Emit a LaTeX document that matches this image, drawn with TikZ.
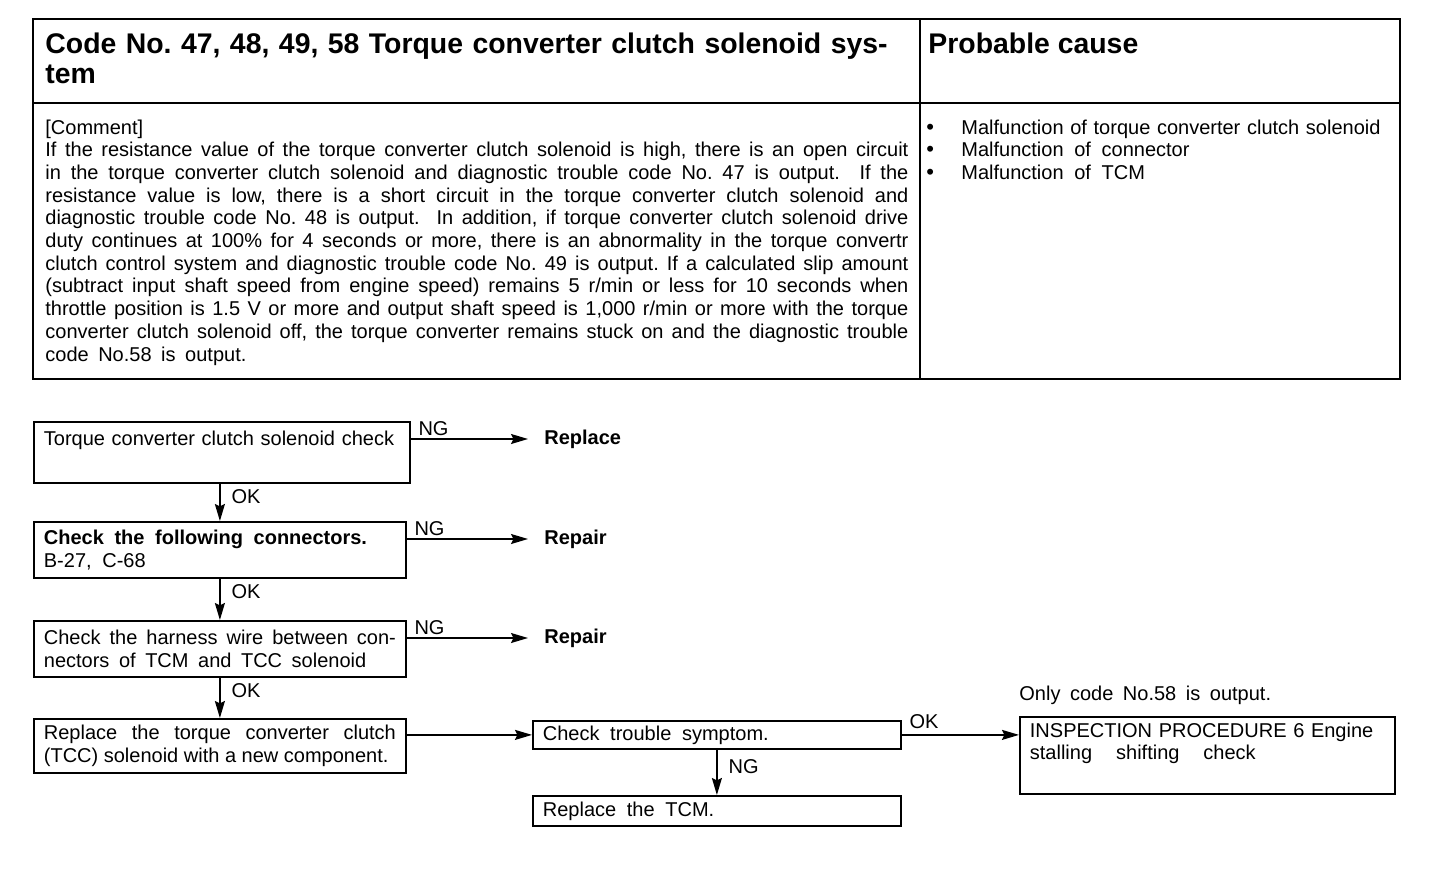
\documentclass[tikz,border=0pt]{standalone}
\usepackage{fontspec}
\setmainfont{Liberation Sans}
\usetikzlibrary{arrows.meta}
\frenchspacing

\begin{document}
\begin{tikzpicture}[x=0.5pt,y=-0.5pt,
		txt/.style={inner sep=0pt,font=\fontsize{10}{11.35}\selectfont},
		hd/.style={inner sep=0pt,font=\fontsize{14.2}{15}\selectfont\bfseries},
		chk/.style={draw,line width=0.9pt,anchor=north west,inner xsep=5pt,inner ysep=0pt,
			font=\fontsize{10}{11.3}\selectfont,align=left},
		act/.style={anchor=west,inner xsep=8pt,font=\fontsize{10}{12}\selectfont\bfseries},
		lab/.style={inner sep=1.5pt,font=\fontsize{10}{12}\selectfont},
		arr/.style={line width=0.75pt,-{Stealth[length=8.5pt,width=5pt,inset=1.2pt]}}]
		\useasboundingbox (0,0) rectangle (1456,878);
		% table
		\draw[line width=1pt] (33,19) rectangle (1400,379);
		\draw[line width=1pt] (920,19) -- (920,379);
		\draw[line width=1pt] (33,103) -- (1400,103);
		\node[hd,anchor=base west,text width=430pt,align=left] (title) at (45,53)
			{Code No. 47, 48, 49, 58 Torque converter clutch solenoid sys-\\tem};
		\node[hd,anchor=base west] (cause) at (928,53) {Probable cause};
		\node[txt,anchor=base west,text width=431.5pt,align=justify] (cmt) at (45,134) {[Comment]\\
			If the resistance value of the torque converter clutch solenoid is high, there is an open circuit\linebreak
			in the torque converter clutch solenoid and diagnostic trouble code No. 47 is output.\ \ If the\linebreak
			resistance value is low, there is a short circuit in the torque converter clutch solenoid and\linebreak
			diagnostic trouble code No. 48 is output.\ \ In addition, if torque converter clutch solenoid drive\linebreak
			duty continues at 100\% for 4 seconds or more, there is an abnormality in the torque convertr\linebreak
			clutch control system and diagnostic trouble code No. 49 is output. If a calculated slip amount\linebreak
			(subtract input shaft speed from engine speed) remains 5 r/min or less for 10 seconds when\linebreak
			throttle position is 1.5 V or more and output shaft speed is 1,000 r/min or more with the torque\linebreak
			converter clutch solenoid off, the torque converter remains stuck on and the diagnostic trouble\linebreak
			code\hspace{0.2em} No.58\hspace{0.2em} is\hspace{0.2em} output.};
		\node[txt,anchor=base west,text width=232pt,align=left] (causes) at (926,134)
			{\makebox[17.5pt][l]{\fontsize{11}{11}\selectfont•}Malfunction of torque converter clutch solenoid\\
			\makebox[17.5pt][l]{\fontsize{11}{11}\selectfont•}Malfunction\hspace{0.2em} of\hspace{0.2em} connector\\
			\makebox[17.5pt][l]{\fontsize{11}{11}\selectfont•}Malfunction\hspace{0.2em} of\hspace{0.2em} TCM};
		% flow chart
		\node[chk,text width=178pt,minimum height=30.5pt] (tccchk) at (33,421)
			{\strut Torque converter clutch solenoid check\\\strut};
		\node[chk,text width=176pt,minimum height=28pt] (conn) at (33,521)
			{\textbf{Check\hspace{0.2em} the\hspace{0.2em} following\hspace{0.2em} connectors.}\\B-27,\hspace{0.2em} C-68};
		\node[chk,text width=176pt,minimum height=28pt,align=justify] (harn) at (33,620)
			{Check the harness wire between con-\linebreak nectors\hspace{0.2em} of\hspace{0.2em} TCM\hspace{0.2em} and\hspace{0.2em} TCC\hspace{0.2em} solenoid};
		\node[chk,text width=176pt,minimum height=27pt,align=justify] (repl) at (33,718)
			{Replace the torque converter clutch\linebreak (TCC) solenoid with a new component.};
		\node[chk,text width=174pt,minimum height=14pt] (sympt) at (532,720) {Check\hspace{0.2em} trouble\hspace{0.2em} symptom.};
		\node[chk,text width=174pt,minimum height=15pt] (tcm) at (532,795) {Replace\hspace{0.2em} the\hspace{0.2em} TCM.};
		\node[chk,text width=177.5pt,minimum height=38.5pt] (insp) at (1019,716)
			{\strut INSPECTION PROCEDURE 6 Engine\\stalling\hspace{1.2em}shifting\hspace{1.2em}check\\\strut};
		\node[lab,anchor=base west,inner sep=0pt] (only) at ([yshift=8pt]insp.north west) {Only\hspace{0.2em} code\hspace{0.2em} No.58\hspace{0.2em} is\hspace{0.2em} output.};
		\node[act] (rpl1) at (528,439) {Replace};
		\node[act] (rep2) at (528,539) {Repair};
		\node[act] (rep3) at (528,638) {Repair};
		% connectors
		\draw[arr] (tccchk.east |- rpl1.west) -- (rpl1.west) node[lab,pos=0,anchor=south west,xshift=2pt] (ng1) {NG};
		\draw[arr] (conn.north |- tccchk.south) -- (conn.north)
			node[lab,pos=0,anchor=north west,xshift=4pt,yshift=-1pt] (ok1) {OK};
		\draw[arr] (conn.east |- rep2.west) -- (rep2.west) node[lab,pos=0,anchor=south west,xshift=2pt] (ng2) {NG};
		\draw[arr] (harn.north |- conn.south) -- (harn.north)
			node[lab,pos=0,anchor=north west,xshift=4pt,yshift=-1pt] (ok2) {OK};
		\draw[arr] (harn.east |- rep3.west) -- (rep3.west) node[lab,pos=0,anchor=south west,xshift=2pt] (ng3) {NG};
		\draw[arr] (repl.north |- harn.south) -- (repl.north)
			node[lab,pos=0,anchor=north west,xshift=4pt,yshift=-1pt] (ok3) {OK};
		\draw[arr] (repl.east |- sympt.west) -- (sympt.west);
		\draw[arr] (sympt.east) -- (sympt.east -| insp.west) node[lab,pos=0,anchor=south west,xshift=2pt,yshift=1pt] (ok4) {OK};
		\draw[arr] (sympt.south) -- (tcm.north) node[lab,pos=0,anchor=north west,xshift=4pt,yshift=-3pt] (ng4) {NG};
	\end{tikzpicture}
\end{document}
